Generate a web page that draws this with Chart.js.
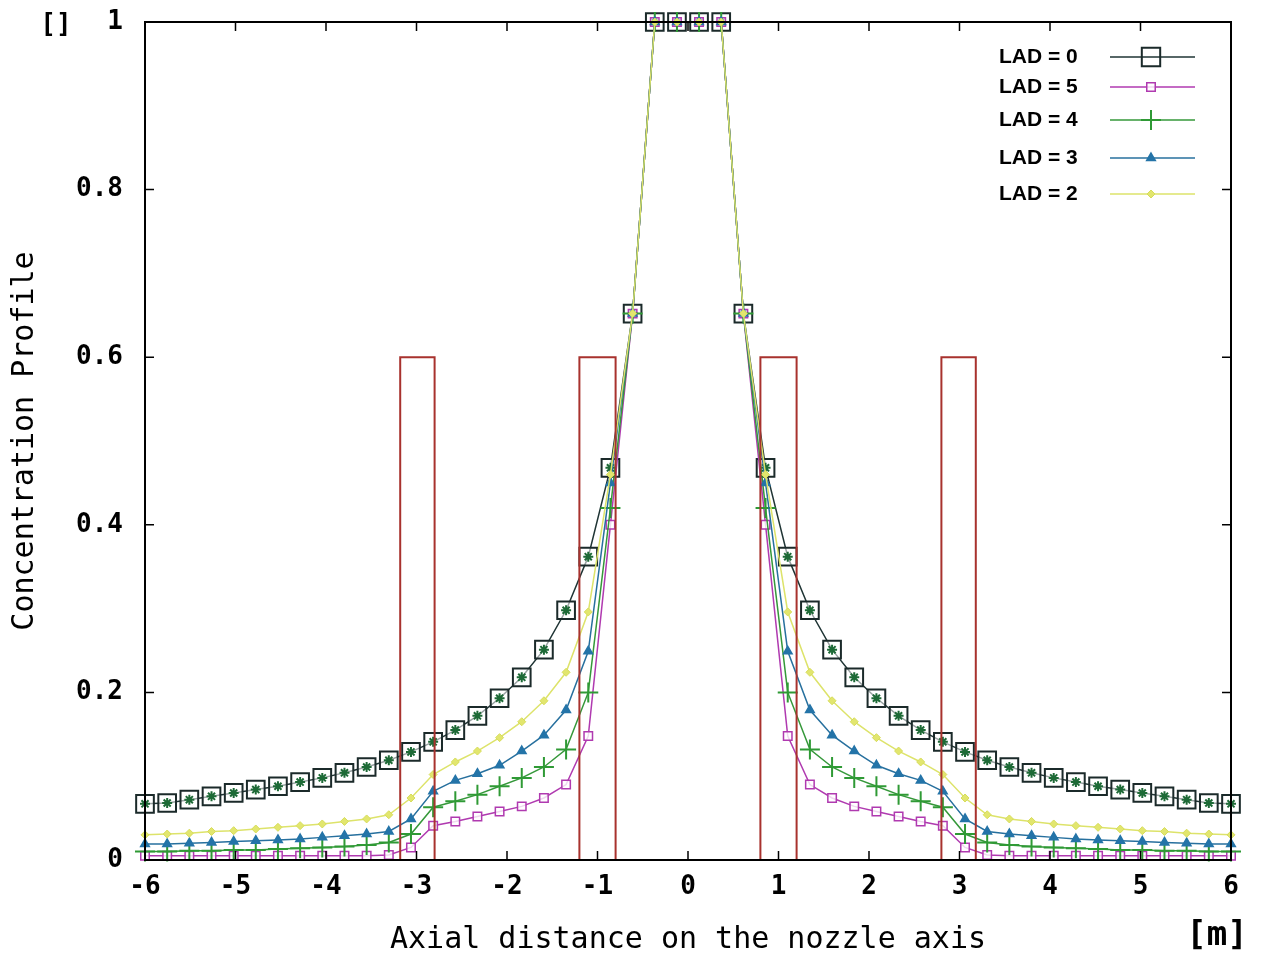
<!DOCTYPE html>
<html>
<head>
<meta charset="utf-8">
<title>Concentration Profile</title>
<script src="https://cdn.jsdelivr.net/npm/chart.js@4.4.1/dist/chart.umd.min.js"></script>
<style>
  html, body { margin: 0; padding: 0; background: #fff; }
</style>
</head>
<body>
<canvas id="grafico" width="1262" height="953"></canvas>
<script>
// Posiciones sobre el eje de la tobera (m)
var posiciones = [-6.000, -5.755, -5.510, -5.265, -5.020, -4.776, -4.531, -4.286, -4.041, -3.796,
                  -3.551, -3.306, -3.061, -2.816, -2.571, -2.327, -2.082, -1.837, -1.592, -1.347,
                  -1.102, -0.857, -0.612, -0.367, -0.122, 0.122, 0.367, 0.612, 0.857, 1.102,
                  1.347, 1.592, 1.837, 2.082, 2.327, 2.571, 2.816, 3.061, 3.306, 3.551,
                  3.796, 4.041, 4.286, 4.531, 4.776, 5.020, 5.265, 5.510, 5.755, 6.000];

// Perfiles de concentración
var lad0 = [0.067, 0.068, 0.072, 0.076, 0.080, 0.084, 0.088, 0.093, 0.098, 0.104,
            0.111, 0.119, 0.129, 0.141, 0.155, 0.172, 0.193, 0.218, 0.251, 0.298,
            0.362, 0.468, 0.652, 1.000, 1.000, 1.000, 1.000, 0.652, 0.468, 0.362,
            0.298, 0.251, 0.218, 0.193, 0.172, 0.155, 0.141, 0.129, 0.119, 0.111,
            0.104, 0.098, 0.093, 0.088, 0.084, 0.080, 0.076, 0.072, 0.068, 0.067];
var lad5 = [0.005, 0.005, 0.005, 0.005, 0.005, 0.005, 0.005, 0.005, 0.005, 0.005,
            0.005, 0.006, 0.015, 0.041, 0.046, 0.052, 0.058, 0.064, 0.074, 0.090,
            0.148, 0.400, 0.652, 1.000, 1.000, 1.000, 1.000, 0.652, 0.400, 0.148,
            0.090, 0.074, 0.064, 0.058, 0.052, 0.046, 0.041, 0.015, 0.006, 0.005,
            0.005, 0.005, 0.005, 0.005, 0.005, 0.005, 0.005, 0.005, 0.005, 0.005];
var lad4 = [0.010, 0.010, 0.011, 0.011, 0.012, 0.012, 0.013, 0.014, 0.015, 0.016,
            0.018, 0.021, 0.031, 0.063, 0.070, 0.078, 0.088, 0.098, 0.111, 0.132,
            0.200, 0.420, 0.652, 1.000, 1.000, 1.000, 1.000, 0.652, 0.420, 0.200,
            0.132, 0.111, 0.098, 0.088, 0.078, 0.070, 0.063, 0.031, 0.021, 0.018,
            0.016, 0.015, 0.014, 0.013, 0.012, 0.012, 0.011, 0.011, 0.010, 0.010];
var lad3 = [0.019, 0.019, 0.020, 0.021, 0.022, 0.023, 0.024, 0.025, 0.027, 0.029,
            0.031, 0.034, 0.049, 0.082, 0.095, 0.103, 0.113, 0.130, 0.149, 0.179,
            0.249, 0.450, 0.652, 1.000, 1.000, 1.000, 1.000, 0.652, 0.450, 0.249,
            0.179, 0.149, 0.130, 0.113, 0.103, 0.095, 0.082, 0.049, 0.034, 0.031,
            0.029, 0.027, 0.025, 0.024, 0.023, 0.022, 0.021, 0.020, 0.019, 0.019];
var lad2 = [0.030, 0.031, 0.032, 0.034, 0.035, 0.037, 0.039, 0.041, 0.043, 0.046,
            0.049, 0.054, 0.074, 0.102, 0.117, 0.130, 0.146, 0.165, 0.190, 0.224,
            0.296, 0.460, 0.652, 1.000, 1.000, 1.000, 1.000, 0.652, 0.460, 0.296,
            0.224, 0.190, 0.165, 0.146, 0.130, 0.117, 0.102, 0.074, 0.054, 0.049,
            0.046, 0.043, 0.041, 0.039, 0.037, 0.035, 0.034, 0.032, 0.031, 0.030];

var nombres = ["LAD = 0", "LAD = 5", "LAD = 4", "LAD = 3", "LAD = 2"];

// Zonas rectangulares (inicio, fin y altura)
var zonasInicio = [-3.18, -1.20, 0.80, 2.80];
var zonasFin = [-2.80, -0.80, 1.20, 3.18];
var alturaZona = 0.6;

// Marcas de los ejes
var ticksX = [-6, -5, -4, -3, -2, -1, 0, 1, 2, 3, 4, 5, 6];
var ticksY = [0, 0.2, 0.4, 0.6, 0.8, 1];

// Convierte una serie en puntos {x, y}
function serie(valores) {
    return posiciones.map(function(x, i) { return { x: x, y: valores[i] }; });
}

// Construye el contorno de las zonas, separado por huecos
function contornoZonas() {
    var puntos = [];
    for (var i = 0; i < zonasInicio.length; i++) {
        puntos.push({ x: zonasInicio[i], y: 0 });
        puntos.push({ x: zonasInicio[i], y: alturaZona });
        puntos.push({ x: zonasFin[i], y: alturaZona });
        puntos.push({ x: zonasFin[i], y: 0 });
        puntos.push({ x: zonasFin[i], y: null });
    }
    return puntos;
}

var estilos = [
    { linea: "#1f3434", borde: "#1b2a2a", fondo: "rgba(255,255,255,0.55)", punto: "rect", radio: 12.5, ancho: 2 },
    { linea: "#b03ab0", borde: "#b03ab0", fondo: "rgba(255,255,255,0.8)", punto: "rect", radio: 6, ancho: 1.5 },
    { linea: "#35983a", borde: "#2f9a35", fondo: "#2f9a35", punto: "cross", radio: 10, ancho: 2 },
    { linea: "#27709e", borde: "#2474a8", fondo: "#2474a8", punto: "triangle", radio: 5, ancho: 1.5 },
    { linea: "#dde36a", borde: "#d6dc5a", fondo: "#e2e66e", punto: "rectRot", radio: 4, ancho: 1 }
];
var series = [lad0, lad5, lad4, lad3, lad2];

var datasets = [];
for (var i = 0; i < series.length; i++) {
    datasets.push({
        label: nombres[i],
        data: serie(series[i]),
        borderColor: estilos[i].linea,
        borderWidth: 1.5,
        pointStyle: estilos[i].punto,
        pointRadius: estilos[i].radio,
        pointBorderColor: estilos[i].borde,
        pointBackgroundColor: estilos[i].fondo,
        pointBorderWidth: estilos[i].ancho,
        tension: 0,
        clip: false,
        order: 10 - i * 2
    });
}
// Asteriscos verdes dentro de los cuadrados de LAD = 0
datasets.push({
    label: "",
    data: serie(lad0),
    showLine: false,
    pointStyle: "star",
    pointRadius: 5,
    pointBorderColor: "#1d6a36",
    pointBorderWidth: 2,
    clip: false,
    order: 9
});
// Contorno de las zonas
datasets.push({
    label: "",
    data: contornoZonas(),
    borderColor: "#a8322e",
    borderWidth: 2,
    pointRadius: 0,
    spanGaps: false,
    order: 1
});

// Marco, marcas interiores, leyenda y unidades
var decorado = {
    id: "decorado",
    afterDraw: function(chart) {
        var ctx = chart.ctx;
        var area = chart.chartArea;
        var ex = chart.scales.x, ey = chart.scales.y;
        ctx.save();
        ctx.strokeStyle = "#000";
        ctx.lineWidth = 2;
        ctx.strokeRect(area.left, area.top, area.right - area.left, area.bottom - area.top);
        ctx.lineWidth = 1.5;
        ctx.beginPath();
        ticksX.forEach(function(v) {
            var px = ex.getPixelForValue(v);
            ctx.moveTo(px, area.bottom); ctx.lineTo(px, area.bottom - 9);
            ctx.moveTo(px, area.top); ctx.lineTo(px, area.top + 9);
        });
        ticksY.forEach(function(v) {
            var py = ey.getPixelForValue(v);
            ctx.moveTo(area.left, py); ctx.lineTo(area.left + 9, py);
            ctx.moveTo(area.right, py); ctx.lineTo(area.right - 9, py);
        });
        ctx.stroke();

        // Leyenda
        var filas = [57, 87, 120, 158, 194];
        ctx.font = "bold 21px 'Liberation Sans', Arial, sans-serif";
        ctx.textBaseline = "middle";
        ctx.textAlign = "left";
        for (var i = 0; i < nombres.length; i++) {
            var y = filas[i];
            ctx.fillStyle = "#000";
            ctx.fillText(nombres[i], 999, y);
            ctx.strokeStyle = estilos[i].linea;
            ctx.lineWidth = 1.5;
            ctx.beginPath();
            ctx.moveTo(1110, y); ctx.lineTo(1195, y);
            ctx.stroke();
            ctx.strokeStyle = estilos[i].borde;
            ctx.fillStyle = i === 0 ? "rgba(255,255,255,0)" : estilos[i].fondo;
            ctx.lineWidth = estilos[i].ancho;
            Chart.helpers.drawPoint(ctx, {
                pointStyle: estilos[i].punto,
                radius: i === 0 ? 13 : estilos[i].radio,
                rotation: 0,
                borderWidth: estilos[i].ancho
            }, 1151, y);
        }

        // Unidades
        ctx.fillStyle = "#000";
        ctx.font = "bold 26px 'DejaVu Sans Mono', monospace";
        ctx.textAlign = "center";
        ctx.fillText("[]", 56, 25);
        ctx.font = "bold 34px 'DejaVu Sans Mono', monospace";
        ctx.fillText("[m]", 1217, 936);
        ctx.restore();
    }
};

var fuenteTicks = { family: "'DejaVu Sans Mono', monospace", size: 26, weight: "bold" };
var fuenteTitulo = { family: "'DejaVu Sans Mono', monospace", size: 30 };

new Chart(document.getElementById("grafico"), {
    type: "line",
    data: { datasets: datasets },
    options: {
        responsive: false,
        animation: false,
        layout: { padding: { top: 22, right: 31, left: 0, bottom: 0 } },
        plugins: {
            legend: { display: false },
            tooltip: { enabled: false }
        },
        scales: {
            x: {
                type: "linear",
                min: -6,
                max: 6,
                grid: { display: false, drawTicks: false },
                border: { display: true, color: "#000", width: 2 },
                afterBuildTicks: function(eje) { eje.ticks = ticksX.map(function(v) { return { value: v }; }); },
                afterFit: function(eje) { eje.height = 93; },
                ticks: { color: "#000", font: fuenteTicks, padding: 12, maxRotation: 0 },
                title: { display: true, text: "Axial distance on the nozzle axis", color: "#000", font: fuenteTitulo, padding: { top: -5, bottom: -5 } }
            },
            y: {
                min: 0,
                max: 1,
                grid: { display: false, drawTicks: false },
                border: { display: true, color: "#000", width: 2 },
                afterBuildTicks: function(eje) { eje.ticks = ticksY.map(function(v) { return { value: v }; }); },
                afterFit: function(eje) {
                    eje.width = 145;
                    eje.paddingTop = 0;
                    eje.paddingBottom = 0;
                },
                ticks: {
                    color: "#000",
                    font: fuenteTicks,
                    padding: 22,
                    callback: function(v) { return String(Math.round(v * 10) / 10); }
                },
                title: { display: true, text: "Concentration Profile", color: "#000", font: fuenteTitulo, padding: { top: 7, bottom: 0 } }
            }
        }
    },
    plugins: [decorado]
});
</script>
</body>
</html>
